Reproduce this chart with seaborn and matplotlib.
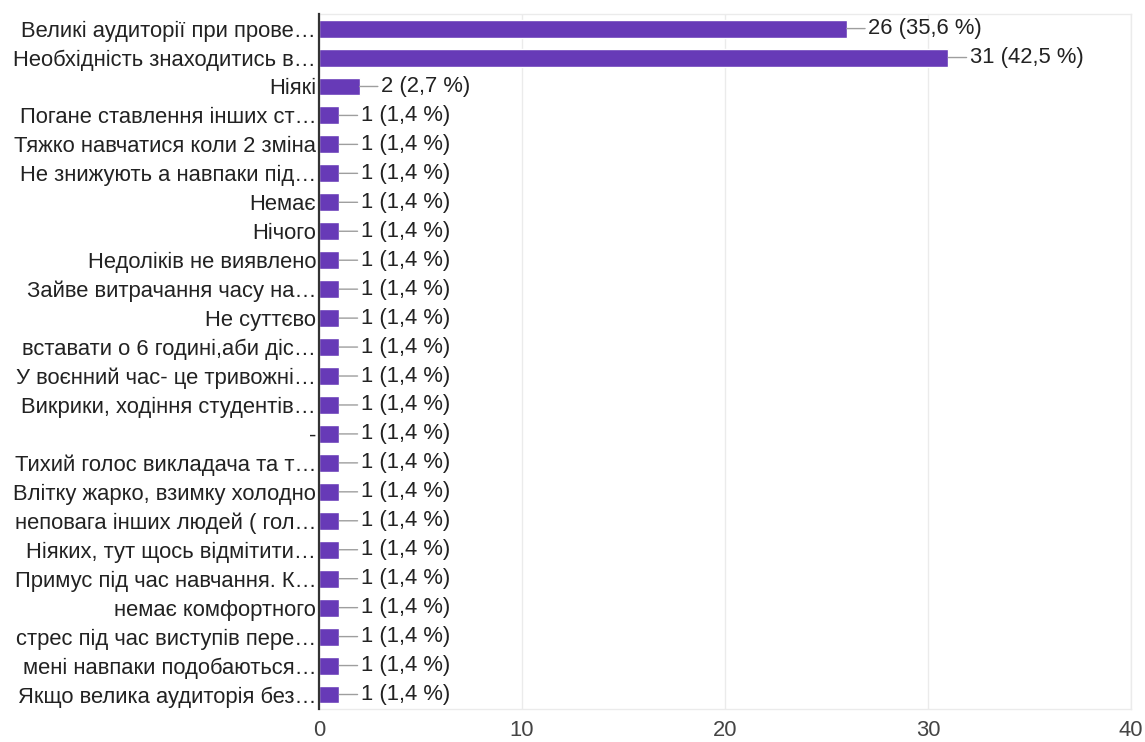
import matplotlib
matplotlib.use("Agg")
import matplotlib.pyplot as plt
import seaborn as sns
import pandas as pd

answers = [
    "Великі аудиторії при прове…",
    "Необхідність знаходитись в…",
    "Ніякі",
    "Погане ставлення інших ст…",
    "Тяжко навчатися коли 2 зміна",
    "Не знижують а навпаки під…",
    "Немає",
    "Нічого",
    "Недоліків не виявлено",
    "Зайве витрачання часу на…",
    "Не суттєво",
    "вставати о 6 годині,аби діс…",
    "У воєнний час- це тривожні…",
    "Викрики, ходіння студентів…",
    "-",
    "Тихий голос викладача та т…",
    "Влітку жарко, взимку холодно",
    "неповага інших людей ( гол…",
    "Ніяких, тут щось відмітити…",
    "Примус під час навчання. К…",
    "немає комфортного",
    "стрес під час виступів пере…",
    "мені навпаки подобаються…",
    "Якщо велика аудиторія без…",
]
counts = [26, 31, 2] + [1] * 21
percents = ["35,6", "42,5", "2,7"] + ["1,4"] * 21
x_ticks = [0, 10, 20, 30, 40]

df = pd.DataFrame({"answer": answers, "count": counts})

sns.set_theme(style="white")
plt.rcParams["font.family"] = ["Liberation Sans", "DejaVu Sans"]

FS = 15.8

fig = plt.figure(figsize=(11.45, 7.42), dpi=100)
ax = fig.add_axes([0.2786, 0.0445, 0.7092, 0.9365])

sns.barplot(data=df, x="count", y="answer", orient="h", color="#673AB7",
            saturation=1, width=0.62, ax=ax, zorder=3)

# value labels joined to the bar ends by a short grey leader line
for i, (c, p) in enumerate(zip(counts, percents)):
    ax.annotate(f"{c} ({p} %)", xy=(c, i), xytext=(15.5, 0),
                textcoords="offset points", ha="left", va="center",
                fontsize=FS, color="#222222",
                arrowprops=dict(arrowstyle="-", color="#9e9e9e", lw=1,
                                shrinkA=0, shrinkB=0))

ax.set_xlim(x_ticks[0], x_ticks[-1])
ax.set_ylim(len(answers) - 0.5, -0.5)
ax.set_xticks(x_ticks)
ax.set_xticklabels([str(t) for t in x_ticks], fontsize=FS, color="#444444")
ax.tick_params(axis="x", length=0, pad=8)
ax.tick_params(axis="y", length=0, pad=2, labelsize=FS, labelcolor="#222222")
ax.set_xlabel("")
ax.set_ylabel("")
ax.xaxis.grid(True, color="#ebebeb", lw=1, zorder=0)
ax.yaxis.grid(False)

for side in ("top", "right", "bottom"):
    ax.spines[side].set_color("#ebebeb")
    ax.spines[side].set_linewidth(1)
ax.spines["left"].set_color("#333333")
ax.spines["left"].set_linewidth(1.6)
ax.spines["left"].set_zorder(4)

fig.savefig("out.png", dpi=100, facecolor="white")
